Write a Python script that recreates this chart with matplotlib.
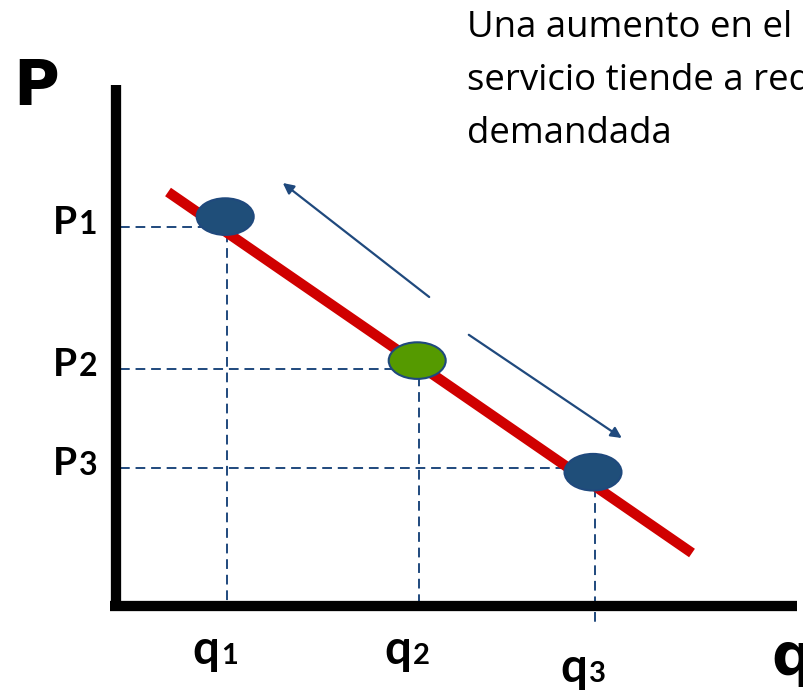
import matplotlib
matplotlib.use("Agg")
import matplotlib.pyplot as plt
from matplotlib.patches import Ellipse

# Price / quantity levels marked on the axes
price_subscripts = ["1", "2", "3"]
price_levels = [6.32, 3.95, 2.30]
quantity_subscripts = ["1", "2", "3"]
quantity_levels = [1.85, 5.05, 7.98]

# Points sitting on the demand curve
point_q = [1.82, 5.02, 7.95]
point_p = [6.49, 4.09, 2.23]
point_colors = ["#1F4E79", "#559A00", "#1F4E79"]

# Demand curve end points
demand_q = [0.867, 9.60]
demand_p = [6.90, 0.883]

# Movement arrows along the curve: (start, end)
arrow_up = [(5.22, 5.15), (2.78, 7.05)]
arrow_down = [(5.88, 4.52), (8.43, 2.80)]

note_lines = ["Una aumento en el",
              "servicio tiende a reducir la cantidad",
              "demandada"]

BLUE = "#1F497D"
RED = "#D00000"

W, H = 804, 693
PX = 60.0          # pixels per unit
X0, Y0 = 116, 606  # origin in pixels

fig = plt.figure(figsize=(W / 100, H / 100), dpi=100)
ax = fig.add_axes([0, 0, 1, 1])
ax.set_xlim(-X0 / PX, (W - X0) / PX)
ax.set_ylim(-(H - Y0) / PX, Y0 / PX)
ax.axis("off")

# Axes of the diagram
ax.plot([0, 0], [-0.08, 8.68], color="black", lw=7.4, solid_capstyle="butt", zorder=5)
ax.plot([-0.1, 11.35], [0, 0], color="black", lw=7.4, solid_capstyle="butt", zorder=5)

# Dashed guides from axes to each point
dash = dict(color=BLUE, lw=1.4, dashes=(5, 3), zorder=2)
bottoms = [-0.02, -0.02, -0.29]
for q, p in zip(quantity_levels, price_levels):
    ax.plot([0.07, q], [p, p], **dash)
for q, pp, b in zip(quantity_levels, point_p, bottoms):
    ax.plot([q, q], [pp, b], **dash)

# Demand curve
ax.plot(demand_q, demand_p, color=RED, lw=7.4, solid_capstyle="butt", zorder=3)

# Points
for q, p, c in zip(point_q, point_p, point_colors):
    ax.add_patch(Ellipse((q, p), 0.95, 0.61, facecolor=c, edgecolor=BLUE,
                         lw=1.5, zorder=4))

# Movement arrows
for start, end in (arrow_up, arrow_down):
    ax.annotate("", xy=end, xytext=start,
                arrowprops=dict(arrowstyle="-|>", color=BLUE, lw=1.6,
                                mutation_scale=16, shrinkA=0, shrinkB=0),
                zorder=6)

# Axis names
ax.text(-1.717, 8.35, "P", family="DejaVu Sans", weight="bold", fontsize=45,
        ha="left", va="baseline")
ax.text(10.93, -1.15, "q", family="DejaVu Sans", weight="bold", fontsize=42,
        ha="left", va="baseline")

# Price labels P1..P3
lab = dict(family="Lato", weight="bold", va="baseline")
for s, p in zip(price_subscripts, price_levels):
    ax.text(-0.65, p - 0.12, "P", fontsize=28, ha="right", **lab)
    ax.text(-0.617, p - 0.12, s, fontsize=23, ha="left", **lab)

# Quantity labels q1..q3
q_base = [-0.967, -0.967, -1.267]
for s, q, b in zip(quantity_subscripts, quantity_levels, q_base):
    ax.text(q - 0.133, b, "q", fontsize=34, ha="right", **lab)
    ax.text(q - 0.10, b, s, fontsize=21, ha="left", **lab)

# Note in the upper right
for i, line in enumerate(note_lines):
    fig.text(467 / W, 1 - (37 + 53 * i) / H, line, family="Open Sans",
             fontsize=26.4, ha="left", va="baseline", color="black")

fig.savefig("out.png", dpi=100)
